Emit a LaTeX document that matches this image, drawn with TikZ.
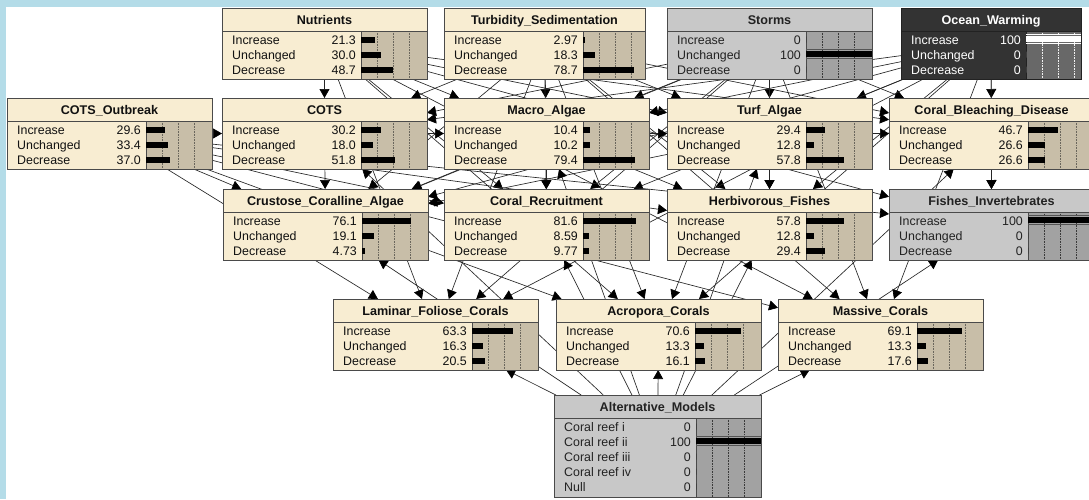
\documentclass[tikz,border=0pt]{standalone}
\usepackage{fontspec}
\setmainfont{Liberation Sans}
\usetikzlibrary{arrows.meta}

% colour schemes of the belief-bar boxes
\definecolor{frameblue}{HTML}{B4DCE8}
\definecolor{cream-body}{HTML}{F8EDD2}
\definecolor{cream-bar}{HTML}{C8BEA8}
\definecolor{cream-line}{HTML}{4A4A4A}
\definecolor{cream-grid}{HTML}{6A665C}
\definecolor{cream-text}{HTML}{111111}
\definecolor{cream-fg}{HTML}{000000}
\definecolor{cream-hi}{HTML}{000000}
\definecolor{grey-body}{HTML}{C8C8C8}
\definecolor{grey-bar}{HTML}{A2A2A2}
\definecolor{grey-line}{HTML}{4A4A4A}
\definecolor{grey-grid}{HTML}{3A3A3A}
\definecolor{grey-text}{HTML}{222222}
\definecolor{grey-fg}{HTML}{000000}
\definecolor{grey-hi}{HTML}{555555}
\definecolor{dark-body}{HTML}{333333}
\definecolor{dark-bar}{HTML}{686868}
\definecolor{dark-line}{HTML}{222222}
\definecolor{dark-grid}{HTML}{F0F0F0}
\definecolor{dark-text}{HTML}{FFFFFF}
\definecolor{dark-fg}{HTML}{FFFFFF}
\definecolor{dark-hi}{HTML}{FFFFFF}

\pgfdeclarelayer{canvas}
\pgfdeclarelayer{links}
\pgfsetlayers{canvas,links,main}

\tikzset{
  nodebox/.style={rectangle, inner sep=0pt, outer sep=0pt, line width=0.9pt},
  titletext/.style={inner sep=0pt, anchor=base, font=\fontsize{12.6}{14}\selectfont\bfseries},
  rowtext/.style={inner sep=0pt, font=\fontsize{12.4}{14}\selectfont},
  lnk/.style={draw=black!85, line width=0.65pt,
    -{Triangle[length=9pt,width=10pt,fill=black,color=black]}},
}

% #1 name, #2 left, #3 top, #4 width, #5 bar-area offset, #6 height,
% #7 title, #8 colour scheme, #9 rows label/value/percent
\newcommand\beliefbox[9]{%
  \node[nodebox, draw=#8-line, fill=#8-body, minimum width=#4pt, minimum height=#6pt]
    (#1) at (#2+#4/2, #3+#6/2) {};
  \fill[#8-bar] (#2+#5, #3+23) rectangle (#2+#4, #3+#6);
  \foreach \k in {1,2,3}
    \draw[#8-grid, densely dotted, line width=0.6pt] (#2+#5+16.25*\k, #3+23) -- ++(0,#6-23);
  \draw[#8-line, line width=0.9pt] (#2,#3+23) -- ++(#4,0);
  \draw[#8-line, line width=0.9pt] (#2+#5,#3+23) -- (#2+#5,#3+#6);
  \node[titletext, text=#8-text] at (#2+#4/2, #3+16) {#7};
  \foreach \lab/\val/\fr [count=\i] in {#9} {
    \pgfmathsetmacro\bl{#3+21+15*\i}
    \node[rowtext, text=#8-text, anchor=base west] at (#2+10, \bl) {\lab};
    \node[rowtext, text=#8-text, anchor=base east] at (#2+#5-5, \bl) {\val};
    \ifdim\fr pt>99pt
      \fill[#8-hi] (#2+#5, \bl-10.5) rectangle (#2+#4, \bl-9.3);
      \fill[#8-fg] (#2+#5, \bl-8) rectangle (#2+#4, \bl-2);
      \fill[#8-hi] (#2+#5, \bl-1) rectangle (#2+#4, \bl+0.2);
    \else
      \fill[#8-fg] (#2+#5, \bl-7.5) rectangle ++(\fr*0.65, 6);
    \fi
  }
  \draw[#8-line, line width=0.9pt] (#1.north west) rectangle (#1.south east);
}

\begin{document}
\begin{tikzpicture}[x=1pt, y=-1pt]
\clip (0,0) rectangle (1089,499);
\begin{pgfonlayer}{canvas}
\fill[frameblue] (0,0) rectangle (1089,499);
\fill[white] (5.5,7) rectangle (1089,499);
\end{pgfonlayer}

% drivers
\beliefbox{nutr}{222}{8}{205}{139}{71}{Nutrients}{cream}
  {Increase/21.3/21.3, Unchanged/30.0/30.0, Decrease/48.7/48.7}
\beliefbox{turb}{444}{8}{201}{139}{71}{Turbidity\_Sedimentation}{cream}
  {Increase/2.97/2.97, Unchanged/18.3/18.3, Decrease/78.7/78.7}
\beliefbox{storm}{667}{8}{205}{139}{71}{Storms}{grey}
  {Increase/0/0, Unchanged/100/100, Decrease/0/0}
\beliefbox{ocean}{901}{8}{180}{125}{71}{Ocean\_Warming}{dark}
  {Increase/100/100, Unchanged/0/0, Decrease/0/0}

% second row
\beliefbox{cotsout}{7}{98}{205}{139}{71}{COTS\_Outbreak}{cream}
  {Increase/29.6/29.6, Unchanged/33.4/33.4, Decrease/37.0/37.0}
\beliefbox{cots}{222}{98}{205}{139}{71}{COTS}{cream}
  {Increase/30.2/30.2, Unchanged/18.0/18.0, Decrease/51.8/51.8}
\beliefbox{macro}{444}{98}{205}{139}{71}{Macro\_Algae}{cream}
  {Increase/10.4/10.4, Unchanged/10.2/10.2, Decrease/79.4/79.4}
\beliefbox{turf}{667}{98}{205}{139}{71}{Turf\_Algae}{cream}
  {Increase/29.4/29.4, Unchanged/12.8/12.8, Decrease/57.8/57.8}
\beliefbox{bleach}{889}{98}{205}{139}{71}{Coral\_Bleaching\_Disease}{cream}
  {Increase/46.7/46.7, Unchanged/26.6/26.6, Decrease/26.6/26.6}

% third row
\beliefbox{cca}{223}{189}{205}{139}{71}{Crustose\_Coralline\_Algae}{cream}
  {Increase/76.1/76.1, Unchanged/19.1/19.1, Decrease/4.73/4.73}
\beliefbox{recruit}{444}{189}{205}{139}{71}{Coral\_Recruitment}{cream}
  {Increase/81.6/81.6, Unchanged/8.59/8.59, Decrease/9.77/9.77}
\beliefbox{herb}{667}{189}{205}{139}{71}{Herbivorous\_Fishes}{cream}
  {Increase/57.8/57.8, Unchanged/12.8/12.8, Decrease/29.4/29.4}
\beliefbox{fishinv}{889}{189}{205}{139}{71}{Fishes\_Invertebrates}{grey}
  {Increase/100/100, Unchanged/0/0, Decrease/0/0}

% corals
\beliefbox{lam}{333}{299}{205}{139}{71}{Laminar\_Foliose\_Corals}{cream}
  {Increase/63.3/63.3, Unchanged/16.3/16.3, Decrease/20.5/20.5}
\beliefbox{acro}{556}{299}{205}{139}{71}{Acropora\_Corals}{cream}
  {Increase/70.6/70.6, Unchanged/13.3/13.3, Decrease/16.1/16.1}
\beliefbox{mass}{778}{299}{205}{139}{71}{Massive\_Corals}{cream}
  {Increase/69.1/69.1, Unchanged/13.3/13.3, Decrease/17.6/17.6}

% model selector
\beliefbox{alt}{554}{395}{207}{142}{102}{Alternative\_Models}{grey}
  {Coral reef i/0/0, Coral reef ii/100/100, Coral reef iii/0/0, Coral reef iv/0/0, Null/0/0}

% links, centre to centre, under the boxes
\begin{pgfonlayer}{links}
\foreach \s/\t in {
  nutr/cots, nutr/macro, nutr/turf, nutr/bleach, nutr/recruit, nutr/fishinv,
  nutr/lam, nutr/acro, nutr/mass,
  turb/cots, turb/macro, turb/turf, turb/bleach, turb/cca, turb/recruit,
  turb/herb, turb/lam, turb/acro, turb/mass,
  storm/cots, storm/macro, storm/turf, storm/bleach, storm/cca, storm/recruit,
  storm/herb, storm/lam, storm/acro, storm/mass,
  ocean/cots, ocean/macro, ocean/turf, ocean/bleach, ocean/cca, ocean/recruit,
  ocean/herb, ocean/fishinv, ocean/lam, ocean/acro, ocean/mass,
  cotsout/cots, cotsout/cca, cotsout/recruit, cotsout/herb, cotsout/fishinv,
  cotsout/lam, cotsout/acro, cotsout/mass,
  cots/cca, cots/macro, macro/turf, macro/cca, macro/recruit, macro/herb,
  turf/herb, turf/cca, turf/bleach, bleach/fishinv,
  alt/cots, alt/macro, alt/turf, alt/bleach, alt/cca, alt/recruit, alt/herb,
  alt/fishinv, alt/lam, alt/acro, alt/mass}
  \draw[lnk] (\s) -- (\t);
\end{pgfonlayer}
\end{tikzpicture}
\end{document}
